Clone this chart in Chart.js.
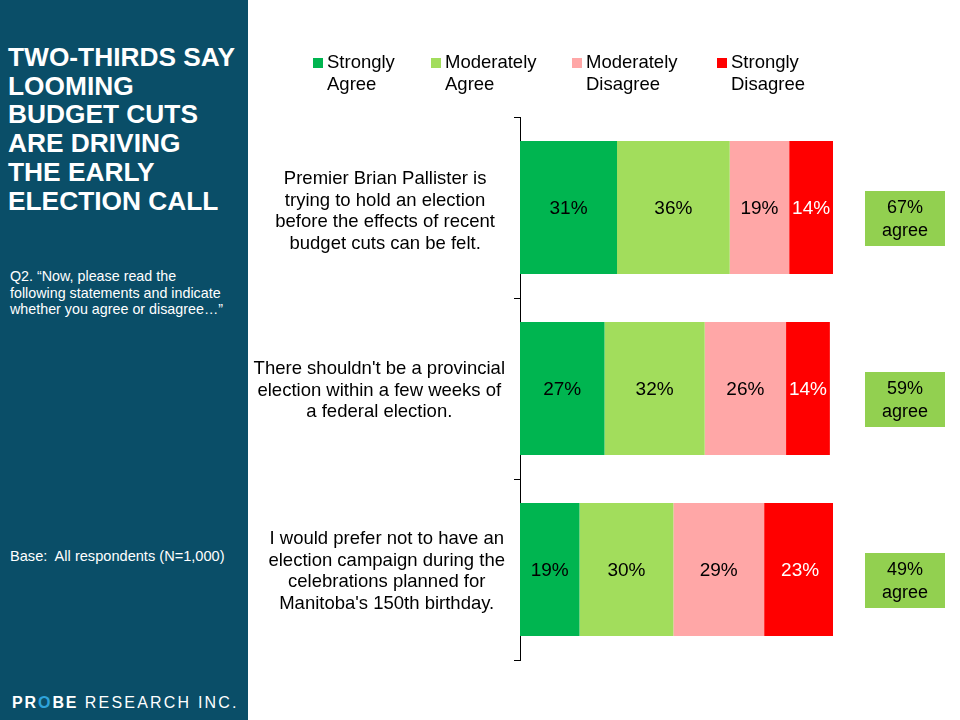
<!DOCTYPE html>
<html>
<head>
<meta charset="utf-8">
<script src="https://cdn.jsdelivr.net/npm/chart.js@4.4.0/dist/chart.umd.min.js"></script>
<style>
  html, body { margin: 0; padding: 0; background: #fff; }
  body { width: 960px; height: 720px; position: relative; overflow: hidden; font-family: "Liberation Sans", Arial, sans-serif; }
  #chart { position: absolute; left: 0; top: 0; }
  #panel { position: absolute; left: 0; top: 0; width: 248px; height: 720px; background: #0a4e68; color: #fff; overflow: hidden; }
  #title { position: absolute; left: 8px; top: 43px; font-weight: bold; font-size: 26.3px; line-height: 28.7px; letter-spacing: 0; white-space: nowrap; }
  #question { position: absolute; left: 10px; top: 268px; font-size: 14.3px; line-height: 16.5px; white-space: nowrap; }
  #base { position: absolute; left: 10px; top: 548px; font-size: 14.6px; white-space: nowrap; }
  #logo { position: absolute; left: 12px; top: 693px; font-size: 16px; letter-spacing: 1.9px; white-space: nowrap; line-height: 20px; }
  #logo b { font-weight: bold; }
  #logo .o { color: #2ea3dc; }
  #logo .r { letter-spacing: 2.2px; }
  #legend { position: absolute; top: 51px; left: 0; width: 960px; height: 50px; }
  .lg { position: absolute; top: 0; font-size: 18.5px; line-height: 22px; color: #000; white-space: nowrap; }
  .lg .sw { position: absolute; left: -14px; top: 7px; width: 10px; height: 10px; }
</style>
</head>
<body>
<canvas id="chart" width="960" height="720"></canvas>
<div id="panel">
  <div id="title">TWO-THIRDS SAY<br>LOOMING<br>BUDGET CUTS<br>ARE DRIVING<br>THE EARLY<br>ELECTION CALL</div>
  <div id="question">Q2. “Now, please read the<br>following statements and indicate<br>whether you agree or disagree…”</div>
  <div id="base">Base:&nbsp; All respondents (N=1,000)</div>
  <div id="logo"><b>PR<span class="o">O</span>BE</b> <span class="r">RESEARCH INC.</span></div>
</div>
<div id="legend"></div>
<script>
// ---- Data ----
const categories = [
  ["Premier Brian Pallister is", "trying to hold an election", "before the effects of recent", "budget cuts can be felt."],
  ["There shouldn't be a provincial", "election within a few weeks of", "a federal election."],
  ["I would prefer not to have an", "election campaign during the", "celebrations planned for", "Manitoba's 150th birthday."]
];
const seriesNames = [["Strongly", "Agree"], ["Moderately", "Agree"], ["Moderately", "Disagree"], ["Strongly", "Disagree"]];
const stronglyAgree = [31, 27, 19];
const moderatelyAgree = [36, 32, 30];
const moderatelyDisagree = [19, 26, 29];
const stronglyDisagree = [14, 14, 23];
const agreeTotals = [67, 59, 49];

// ---- Styles ----
const colors = ["#00b550", "#a2dd5c", "#ffa7a7", "#ff0000"];
const labelColors = ["#000", "#000", "#000", "#fff"];
const legendX = [327, 445, 586, 731];
const catRightGap = [25, 15, 15];
const catYShift = [4, 2, 2];
const FONT = '"Liberation Sans", Arial, sans-serif';

// legend (HTML)
const legend = document.getElementById('legend');
seriesNames.forEach((n, i) => {
  const d = document.createElement('div');
  d.className = 'lg';
  d.style.left = legendX[i] + 'px';
  d.innerHTML = '<span class="sw" style="background:' + colors[i] + '"></span>' + n.join('<br>');
  legend.appendChild(d);
});

const seriesValues = [stronglyAgree, moderatelyAgree, moderatelyDisagree, stronglyDisagree];

const segLabels = {
  id: 'segLabels',
  afterDatasetsDraw(chart) {
    const ctx = chart.ctx;
    ctx.save();
    ctx.font = '19px ' + FONT;
    ctx.textAlign = 'center';
    ctx.textBaseline = 'middle';
    chart.data.datasets.forEach((ds, di) => {
      const meta = chart.getDatasetMeta(di);
      meta.data.forEach((el, i) => {
        const x = (el.x + el.base) / 2;
        ctx.fillStyle = labelColors[di];
        ctx.fillText(ds.data[i] + '%', x, el.y + 1);
      });
    });
    ctx.restore();
  }
};

const catLabels = {
  id: 'catLabels',
  afterDraw(chart) {
    const ctx = chart.ctx;
    const ys = chart.scales.y;
    ctx.save();
    ctx.font = '18.5px ' + FONT;
    ctx.fillStyle = '#000';
    ctx.textAlign = 'center';
    ctx.textBaseline = 'middle';
    const lh = 21.7;
    categories.forEach((lines, i) => {
      const yc = ys.getPixelForValue(i) + catYShift[i];
      const widest = Math.max(...lines.map(l => ctx.measureText(l).width));
      const xc = ys.right - catRightGap[i] - widest / 2;
      const y0 = yc - (lines.length - 1) * lh / 2;
      lines.forEach((l, k) => ctx.fillText(l, xc, y0 + k * lh));
    });
    ctx.restore();
  }
};

const agreeBoxes = {
  id: 'agreeBoxes',
  afterDraw(chart) {
    const ctx = chart.ctx;
    const ys = chart.scales.y;
    ctx.save();
    agreeTotals.forEach((v, i) => {
      const yc = ys.getPixelForValue(i) + 11;
      ctx.fillStyle = '#92d050';
      ctx.fillRect(865, yc - 27.5, 80, 55);
      ctx.fillStyle = '#000';
      ctx.font = '18px ' + FONT;
      ctx.textAlign = 'center';
      ctx.textBaseline = 'middle';
      ctx.fillText(v + '%', 905, yc - 10);
      ctx.fillText('agree', 905, yc + 13);
    });
    ctx.restore();
  }
};

new Chart(document.getElementById('chart'), {
  type: 'bar',
  data: {
    labels: categories.map(c => c.join(' ')),
    datasets: seriesNames.map((n, i) => ({
      label: n.join(' '),
      data: seriesValues[i],
      backgroundColor: colors[i],
      borderWidth: 0,
      barPercentage: 0.735,
      categoryPercentage: 1
    }))
  },
  options: {
    indexAxis: 'y',
    responsive: false,
    animation: false,
    devicePixelRatio: 1,
    layout: { padding: { left: 0, right: 127, top: 117, bottom: 60 } },
    plugins: { legend: { display: false }, tooltip: { enabled: false } },
    scales: {
      x: { stacked: true, display: false, min: 0, max: 100 },
      y: {
        stacked: true,
        grid: { offset: true, drawOnChartArea: false, drawTicks: true, tickLength: 6, color: '#000', lineWidth: 1 },
        border: { display: true, color: '#000', width: 1 },
        ticks: { display: false },
        afterFit(scale) { scale.width = 520; }
      }
    }
  },
  plugins: [segLabels, catLabels, agreeBoxes]
});
</script>
</body>
</html>
